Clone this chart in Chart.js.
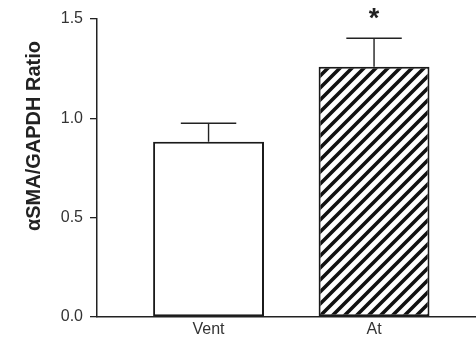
<!DOCTYPE html>
<html>
<head>
<meta charset="utf-8">
<script src="https://cdn.jsdelivr.net/npm/chart.js@4/dist/chart.umd.min.js"></script>
<style>
  html, body { margin: 0; padding: 0; background: #fff; }
  #wrap { width: 476px; height: 343px; position: relative; }
</style>
</head>
<body>
<div id="wrap"><canvas id="c" width="476" height="343"></canvas></div>
<script>
// ---- data ----
const categories = ['Vent', 'At'];
const means = [0.882, 1.26];
const errors = [0.093, 0.143];
const significance = ['', '*'];
const yTicks = [0.0, 0.5, 1.0, 1.5];
const yTitle = 'αSMA/GAPDH Ratio';

function makeHatch(ctx) {
  const p = 12;
  const c = document.createElement('canvas');
  c.width = p; c.height = p;
  const g = c.getContext('2d');
  g.fillStyle = '#fff';
  g.fillRect(0, 0, p, p);
  g.strokeStyle = '#111';
  g.lineWidth = 3.6;
  g.beginPath();
  g.moveTo(-p / 2, p / 2); g.lineTo(p / 2, -p / 2);
  g.moveTo(0, p); g.lineTo(p, 0);
  g.moveTo(p / 2, p * 1.5); g.lineTo(p * 1.5, p / 2);
  g.stroke();
  return ctx.createPattern(c, 'repeat');
}

const canvas = document.getElementById('c');
const ctx = canvas.getContext('2d');
const hatch = makeHatch(ctx);

const errorBars = {
  id: 'errorBars',
  afterDatasetsDraw(chart) {
    const meta = chart.getDatasetMeta(0);
    const y = chart.scales.y;
    const c = chart.ctx;
    c.save();
    c.strokeStyle = '#222';
    c.lineWidth = 1.4;
    meta.data.forEach((bar, i) => {
      const top = y.getPixelForValue(means[i] + errors[i]);
      const half = bar.width / 4;
      c.beginPath();
      c.moveTo(bar.x, bar.y);
      c.lineTo(bar.x, top);
      c.moveTo(bar.x - half, top);
      c.lineTo(bar.x + half, top);
      c.stroke();
      if (significance[i]) {
        c.fillStyle = '#222';
        c.font = 'bold 27px "Liberation Sans", Arial, sans-serif';
        c.textAlign = 'center';
        c.textBaseline = 'alphabetic';
        c.fillText(significance[i], bar.x, top - 11);
      }
    });
    c.restore();
  }
};

const yTitlePlugin = {
  id: 'yTitlePlugin',
  afterDraw(chart) {
    const a = chart.chartArea;
    const c = chart.ctx;
    c.save();
    c.translate(a.left - 57, a.top + 117);
    c.rotate(-Math.PI / 2);
    c.fillStyle = '#222';
    c.font = 'bold 20px "Liberation Sans", Arial, sans-serif';
    c.textAlign = 'center';
    c.textBaseline = 'alphabetic';
    c.fillText(yTitle, 0, 0);
    c.restore();
  }
};

new Chart(ctx, {
  type: 'bar',
  data: {
    datasets: [{
      data: categories.map((name, i) => ({ x: i, y: means[i] })),
      backgroundColor: ['#ffffff', hatch],
      borderColor: '#1a1a1a',
      borderWidth: 2,
      borderSkipped: false,
      categoryPercentage: 1,
      barPercentage: 0.67
    }]
  },
  options: {
    responsive: false,
    animation: false,
    events: [],
    layout: { padding: { top: 19, left: 0, right: 0, bottom: 0 } },
    plugins: { legend: { display: false }, tooltip: { enabled: false } },
    scales: {
      x: {
        type: 'linear',
        offset: false,
        min: -0.674,
        max: 1.616,
        afterBuildTicks: s => { s.ticks = categories.map((_, i) => ({ value: i })); },
        afterFit: s => { s.height = 26; },
        ticks: {
          callback: v => categories[v] ?? '',
          color: '#333',
          font: { family: '"Liberation Sans", Arial, sans-serif', size: 16 },
          padding: 3,
          maxRotation: 0
        },
        grid: { display: true, offset: false, drawOnChartArea: false, drawTicks: false },
        border: { display: true, color: '#222', width: 1.5 }
      },
      y: {
        min: 0,
        max: 1.5,
        afterBuildTicks: s => { s.ticks = yTicks.map(v => ({ value: v })); },
        afterFit: s => { s.width = 97; },
        ticks: {
          callback: v => v.toFixed(1),
          color: '#333',
          font: { family: '"Liberation Sans", Arial, sans-serif', size: 16 },
          padding: 7
        },
        grid: { display: true, drawOnChartArea: false, drawTicks: true, tickLength: 7, color: '#222', lineWidth: 1.3 },
        border: { display: true, color: '#222', width: 1.5 }
      }
    }
  },
  plugins: [errorBars, yTitlePlugin]
});
</script>
</body>
</html>
